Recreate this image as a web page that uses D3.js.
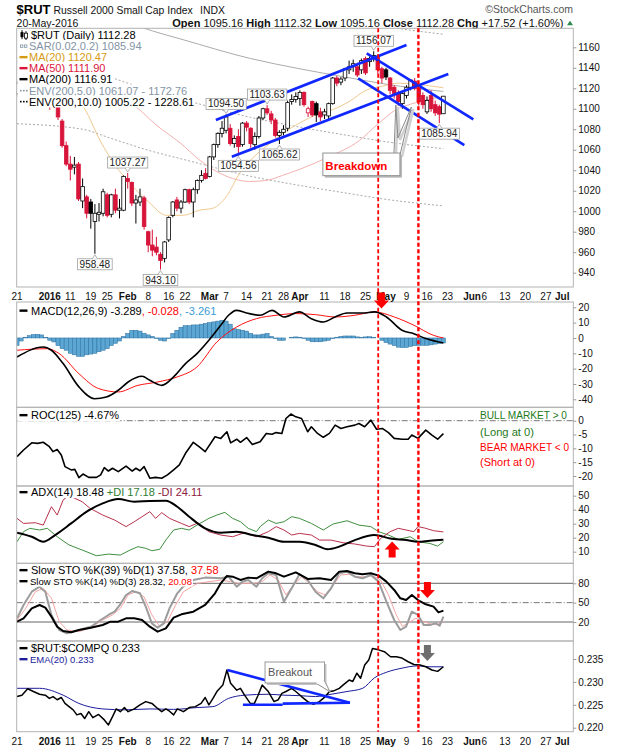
<!DOCTYPE html>
<html><head><meta charset="utf-8">
<script src="https://cdn.jsdelivr.net/npm/d3@7"></script>
<style>
body{margin:0;background:#fff;}
svg{display:block;font-family:"Liberation Sans",Arial,sans-serif;}
</style></head><body>
<svg id="c" width="620" height="750"></svg>
<script>
// ---------------- DATA ----------------
// trading-day index 0 = 21-Dec-2015 ... 104 = 20-May-2016
const opens = [1115,1126,1138,1151,1146,1142,1153,1143,1131,1115,1103,1088,1064,1046,1043,1046,1010,1014,1009,990,997,998,1016,997,1016,1001,1001,1032,1028,1008,1009,1013,980,967,965,958,954,972,996,1011,1003,1009,1021,1009,1021,1030,1037,1034,1053,1065,1076,1079,1081,1066,1073,1065,1086,1081,1065,1073,1091,1100,1095,1089,1074,1077,1081,1107,1109,1110,1116,1096,1107,1105,1097,1094,1093,1105,1130,1126,1130,1138,1141,1141,1138,1149,1146,1149,1151,1139,1138,1130,1121,1115,1105,1113,1121,1127,1120,1113,1097,1113,1104,1102,1095.16];
const highs = [1127,1138,1152,1153,1147,1157,1155,1145,1132,1120,1104,1090,1068,1054,1053,1048,1032,1016,1012,1007,1008,1022,1018,1017,1022,1012,1035,1037.27,1029,1016,1022,1015,981,982,975,960,971,995,1010,1014,1011,1022,1022,1023,1031,1040,1042,1054,1066,1077,1088,1094.50,1085,1074,1080,1087,1088,1082,1077,1093,1101,1103.63,1098,1091,1079,1084,1108,1114,1116,1118,1117,1102,1108,1107,1101,1100,1106,1131,1132,1131,1140,1147,1148,1145,1149,1151,1151,1156.07,1153,1141,1140,1131,1123,1118,1116,1123,1129,1130,1124,1116,1112,1118,1108,1104,1112.32];
const lows = [1112,1124,1137,1146,1134,1141,1142,1134,1099,1108,1089,1062,1044,1030,1036,1010,1003,993,983,958.48,990,995,994,994,998,993,1000,1022,1005,988,1005,982,960,956,957,943.10,950,970,994,1000,998,1008,1007,994,1017,1028,1031,1033,1050,1062,1072,1076,1064,1062,1054.56,1063,1078,1062,1060,1071,1089,1094,1085,1072,1065.62,1074,1078,1104,1106,1103,1102,1092,1092,1087,1088,1090,1089,1104,1122,1123,1127,1134,1136,1131,1134,1133,1141,1146,1134,1125,1128,1114,1110,1103,1100,1110,1118,1118,1103,1100,1095,1097,1093,1085.94,1095.16];
const closes = [1125,1137,1151,1148,1140,1154,1144,1136,1114,1117,1092,1064,1046,1041,1045,1012,1024,998,998,998,999,1019,996,1016,1001,1003,1034,1029,1008,1011,1014,985,967,962,960,952,970,994,1009,1003,1009,1021,1009,1021,1030,1035,1032,1053,1065,1076,1081,1092,1066,1071,1063,1086,1082,1066,1073,1091,1100,1096,1089,1074,1077,1080,1106,1109,1112,1116,1104,1100,1094,1094,1092,1097,1105,1130,1125,1129,1139,1141,1144,1133,1147,1135,1149,1152,1138,1130,1131,1118,1115,1107,1115,1121,1128,1120,1107,1104,1108,1100,1096,1094.76,1112.28];

const peakIdx = [87, 61, 51, 27];
const troughIdx = [64, 54, 19, 35, 103];

const ma20Pts = [[0,1140],[8,1133],[12,1118],[16.5,1100],[20.2,1069.5],[24.2,1043.5],[28.3,1024],[32.4,1008],[36.4,996],[40.5,996],[44.5,1001],[47.8,1003],[51,1014],[54.3,1037],[57.5,1052],[60.7,1063],[64.8,1076],[68.9,1086],[72.9,1094],[76.9,1099],[81,1107],[85.1,1118],[89.1,1122],[93.2,1125],[97.2,1124],[104,1120.47]];
const ma50Pts = [[0,1150],[10,1140],[20,1120],[29,1102],[34,1084],[40,1066],[44.5,1050],[48.6,1039],[52.6,1032],[56.7,1029],[60.7,1030],[64.8,1035],[69,1041],[76,1053],[83.5,1069],[88,1085],[92,1098],[97.3,1106],[104,1111.90]];
const ma200Pts = [[0,1206],[16,1200],[23,1190],[33,1176],[40,1168],[57,1149],[69,1139],[80,1131],[90,1124],[104,1116.91]];

const macdPts = [[0,-12.4],[6.4,-5.9],[8.4,-8],[11.25,-16.7],[15.1,-31.9],[18.9,-39.6],[21.8,-38.5],[24.7,-34.1],[27.1,-28.7],[30.5,-25],[32.4,-27.6],[35.3,-30.9],[38.2,-25.4],[41.1,-16.7],[43.9,-10.2],[46.8,-1.5],[49.7,8.3],[51.6,14.8],[53.5,18],[56,16.3],[59.3,14.8],[62.2,18],[65.1,13.7],[68.9,17],[71.8,12.6],[74.7,10.4],[77.6,13.7],[80.5,16.3],[84.3,16.3],[87.2,17],[90.1,13.7],[93.9,5],[96.8,2.8],[99.7,-0.4],[104,-3.289]];
const signalPts = [[0,-8],[7.4,-7],[10.3,-10.2],[15.1,-23.3],[19.9,-33],[24.7,-35.2],[29.5,-30.9],[34.3,-28.7],[39.1,-25.4],[43.9,-18.9],[48.75,-2.6],[53.6,7.2],[58.4,12.6],[63.2,14.8],[68,15.9],[72.8,15.2],[77.6,13.7],[82.4,14.8],[87.2,17],[92,13.7],[96.8,8.3],[101.6,1.7],[104,-0.028]];
const macdHist = [-4.8,-2,0.5,1.5,2.2,2.4,2,0.3,-1.5,-2.6,-5,-7,-8,-10,-11,-12,-12,-11,-10.5,-10,-9,-8,-7,-5,-3.5,-2,1,3,5,5,4.5,3,2,1,-0.5,-1.5,-2,-0.5,3,5,7,8,8,8.5,8.5,9,9.5,10,10.5,11,11.5,11,9,6,5.5,5,4.5,3,2,2,2.5,3,1,-0.5,-1.5,-1.5,0,0.5,0.7,0.5,-0.5,-1.5,-2.5,-2.5,-2.5,-2,-1.5,-0.5,0.5,1,1.3,1.3,1.3,0.7,0.5,0.7,0.8,0.5,0,-1.5,-3,-4,-5,-6,-6.3,-6.2,-5.5,-5,-4.8,-4.8,-4.8,-4.5,-4,-3.6,-3.261];

const rocPts = [[0,-13],[1.6,-10.6],[3.6,-8],[5,-8.2],[6.4,-7.8],[7.9,-9.4],[8.8,-11.2],[9.8,-10.4],[10.8,-12.4],[11.7,-16.6],[13.2,-17.8],[14.1,-17.6],[15.1,-20.6],[16.1,-19.3],[17.5,-20.5],[19.4,-20.5],[20.4,-19.6],[21.3,-17],[22.3,-18.2],[23.3,-17.2],[24.7,-18.4],[26.6,-16.4],[28.1,-18.2],[29,-17.2],[30,-18.1],[31,-16.6],[32.4,-20.8],[33.8,-20.5],[35.3,-20.8],[36.7,-19.6],[38.2,-17.8],[39.6,-16],[41.1,-11.8],[43,-7.8],[44.4,-9.4],[45.9,-11.2],[48.3,-5.8],[49.7,-6.4],[51.2,-4],[52.1,-8],[53.6,-6.7],[54.5,-7.8],[56,-6.1],[57.4,-8.6],[59.3,-7.6],[60.8,-4.6],[62.2,-4.9],[63.2,-4.3],[64.6,-4.6],[65.6,0.8],[66.8,2.4],[68,1.4],[69.4,0.8],[70.9,-4],[71.8,-2.2],[73.3,-4.6],[74.7,-6],[76.2,-4.6],[77.6,-1.6],[79,-2.8],[80.5,-2.2],[82.4,-1.6],[83.4,-1],[84.8,-2.2],[86.3,0.2],[87.7,-3.1],[89.1,-2.8],[90.6,-4.3],[92,-6.4],[93.9,-6.7],[95.4,-6.7],[96.3,-5.2],[97.8,-6.4],[99.7,-3.4],[101.2,-5.2],[102.6,-6.7],[104,-4.67]];

const adxPts = [[0,23.6],[3.6,20.7],[6.4,17.1],[9.3,21.9],[13.2,30.2],[17,38.6],[20.9,44.5],[24.7,47.6],[28.6,45.7],[32.4,46.2],[36.3,46.4],[39.1,42.1],[42,35],[45.9,26.7],[49.7,23.6],[53.6,24.3],[57.4,21.9],[61.3,20],[65.1,17.1],[68.9,17.1],[72.8,14.8],[75.7,11.7],[78.6,13.6],[82.4,18.3],[87.2,21.9],[91,19.5],[94.9,18.3],[97.8,17.1],[100.7,17.9],[104,18.48]];
const pdiPts = [[0,17.1],[1.6,24.3],[3.1,26.7],[5.5,25.5],[7.4,26.7],[9.8,20.7],[12.7,14.8],[15.9,11.2],[19.4,7.1],[22.3,8.3],[25.2,7.6],[27.6,11.2],[29.5,13.6],[31.4,12.4],[32.9,10.7],[34.8,11.7],[36.3,18.3],[38.2,25.5],[40.1,26.7],[42,25.5],[43.9,29],[46.8,33.8],[48.75,36.2],[50.7,38.1],[52.6,33.8],[54.5,31.4],[56.4,26.7],[58.4,24.3],[59.3,27.9],[61.3,32.6],[63.2,30.2],[65.1,31.4],[67,35],[68.9,33.8],[71.8,30.2],[74.7,25.5],[77.1,29.8],[80.5,32.1],[83.4,29],[86.3,27.9],[88.2,24.3],[90.6,21.9],[93,18.8],[95.9,20.7],[97.8,17.1],[100.7,15.9],[102.6,14],[104,17.18]];
const mdiPts = [[0,33.8],[1.6,30.2],[4.5,30.7],[6.4,29],[8.4,42.1],[9.8,36.2],[11.25,46.9],[12.7,50.5],[14.1,48.1],[15.9,45.7],[17.8,41],[20.9,36.2],[23.8,32.6],[26.6,27.9],[28.6,31.4],[30.5,35],[32.4,38.6],[33.8,33.8],[35.3,37.9],[37.2,33.8],[40.1,30.2],[42,27.9],[43.9,30.2],[46.8,24.3],[49.7,21.9],[52.6,20.7],[55.5,23.6],[58.4,20.7],[61.3,24.3],[63.2,27.9],[65.1,25.5],[67,21.9],[68.9,23.1],[71.8,21.9],[73.8,18.3],[76.6,18.3],[79.5,16.4],[82.4,15.5],[85.3,14],[87.2,13.6],[88.7,19.5],[91,24.3],[93,26.7],[94.9,25.5],[96.8,24.3],[97.8,27.9],[99.7,26.7],[101.6,25],[104,24.11]];

const k39Pts = [[0,20.5],[1.6,25.7],[3.6,41.2],[5.5,46.4],[6.9,42.2],[8.4,28.3],[9.8,12.7],[11.25,6],[13.2,4],[15.1,7.6],[18,11.2],[20.9,15.3],[22.8,20.5],[24.7,20.5],[26.6,25.7],[28.6,25.7],[30.5,23.1],[32.4,12.7],[34.3,5],[36.3,10.2],[38.2,26.7],[40.1,31.9],[43,36],[45.9,46.4],[48.3,64.5],[49.7,80],[51.2,91.4],[52.6,90.3],[54.5,85.2],[56.4,88.8],[58.4,87.8],[61.3,98.1],[63.2,95.5],[65.1,90.3],[68,97],[70.9,86.7],[73.8,87.8],[76.6,85.2],[78.6,98.1],[80.5,99.1],[82.4,95.5],[84.3,94],[86.3,95.5],[88.2,91.9],[90.1,82.6],[92,69.7],[93.5,56.7],[94.9,54.1],[96.3,61.9],[97.8,54.1],[99.7,47.4],[101.6,43.8],[102.8,35],[104,37.58]];
const k14Pts = [[0,25.7],[1.6,46.4],[3.6,67],[5.5,74.8],[6.9,67],[8.4,30.9],[10.3,7.6],[12.2,2.4],[15.1,7.6],[18,12.7],[20.4,23.1],[22.3,30.9],[23.8,36],[25.2,47.4],[26.6,61.9],[28.1,68.1],[30,64.5],[31.4,43.8],[32.9,17.9],[34.3,11.2],[35.8,17.9],[37.2,41.2],[39.1,64.5],[40.5,74.8],[43,85],[45.9,88.8],[49.7,87.8],[51.6,90.3],[53.6,74.8],[55,82.6],[56.4,85.2],[58.4,74.8],[59.8,87.8],[61.3,95.5],[63.2,92.9],[65.1,51.5],[67,72.2],[68.9,94],[70.9,85.2],[72.8,67],[74.7,56.7],[76.6,72.2],[78.6,95.5],[80.5,98.1],[82.4,90.3],[84.3,87.8],[86.3,92.9],[88.2,82.6],[90.1,51.5],[92,23.1],[93.5,7.6],[94.9,12.7],[96.3,36],[97.8,30.9],[99.2,15.3],[100.7,15.3],[102.1,17.9],[103.1,14.3],[104,28.32]];
const d3Pts = [[0,23],[2.1,41],[4.5,67],[6.4,72],[8.4,57],[10.3,20.5],[12.2,7.6],[15.1,5],[18,11.2],[20.9,23],[23.3,31],[25.2,41],[27.1,62],[29,67],[31,59],[32.9,31],[34.8,13],[36.7,20.5],[38.65,46],[40.6,67],[44,80],[49.7,85],[52.1,82.6],[54,80],[56,80],[57.9,80],[59.8,82.6],[61.7,93],[63.7,85],[65.6,62],[67.5,77.4],[69.4,90],[71.3,80],[73.3,67],[75.2,62],[77.1,77.4],[79,93],[81,94],[82.9,90],[84.8,90],[86.7,92],[88.65,85],[90.6,62],[92.5,31],[94,13],[95.9,20.5],[97.3,25.7],[99.2,20.5],[101.1,16.4],[102.6,16.4],[104,20.08]];

const ratioPts = [[0,0.2268],[1.2,0.2271],[2.6,0.2285],[4,0.2279],[5.5,0.2273],[6.9,0.2271],[7.9,0.2264],[8.8,0.2268],[9.8,0.2261],[10.8,0.2266],[11.7,0.2253],[12.7,0.2246],[13.7,0.2239],[14.6,0.2228],[15.6,0.2231],[16.5,0.2220],[17.5,0.2235],[18.5,0.2222],[19.9,0.2229],[21.3,0.2217],[22.3,0.2206],[23.3,0.2224],[24.2,0.2241],[25.2,0.2235],[26.2,0.2244],[27.1,0.2235],[28.6,0.2241],[30,0.2250],[31.4,0.2257],[32.9,0.2253],[34.3,0.2242],[35.3,0.2235],[36.3,0.2241],[37.2,0.2236],[38.2,0.2228],[39.1,0.2241],[40.6,0.2235],[42,0.2244],[43.5,0.2246],[44.9,0.2253],[45.9,0.2266],[46.8,0.2250],[47.8,0.2264],[48.75,0.2279],[50.2,0.2293],[51.2,0.2326],[52.1,0.2297],[53.6,0.2282],[54.5,0.2286],[55.5,0.2271],[56.9,0.2253],[57.9,0.2253],[58.8,0.2271],[59.8,0.2293],[61.3,0.2279],[62.7,0.2257],[63.7,0.2261],[64.6,0.2275],[65.6,0.2279],[67,0.2286],[68,0.2279],[69.4,0.2268],[70.9,0.2257],[72.3,0.2251],[73.75,0.2257],[75.2,0.2268],[76.2,0.2279],[77.1,0.2280],[78.6,0.2286],[79.5,0.2293],[81,0.2304],[81.9,0.2301],[82.9,0.2319],[83.8,0.2308],[84.8,0.2337],[85.8,0.2348],[86.7,0.2373],[88.2,0.2370],[89.6,0.2366],[91.1,0.2355],[92.5,0.2355],[93.9,0.2352],[95.4,0.2344],[96.8,0.2338],[98.3,0.2337],[99.7,0.2333],[101.2,0.2326],[102.6,0.2323],[104,0.2333]];
const emaPts = [[0,0.2286],[5.5,0.2286],[11.25,0.2271],[15.1,0.2253],[20.9,0.2241],[26.6,0.2239],[32.4,0.2241],[38.2,0.2240],[43.9,0.2244],[47.8,0.2246],[51.6,0.2264],[55.5,0.2271],[61.3,0.2273],[65.1,0.2271],[68.9,0.2270],[72.8,0.2268],[76.6,0.2273],[80.5,0.2279],[84.3,0.2286],[87.2,0.2309],[90.1,0.2321],[93.9,0.2330],[97.8,0.2335],[100.7,0.2333],[104,0.2333]];

const tickIdx = [0,8,13,18,22,27,32,37,41,47,51,56,61,65,69,75,80,85,90,95,100,105,111,114,119,124,129,133];
const tickLabels = ["21","2016","11","19","25","Feb","8","16","22","Mar","7","14","21","28","Apr","11","18","25","May","9","16","23","Jun","6","13","20","27","Jul"];
const boldLabels = ["2016","Feb","Mar","Apr","May","Jun","Jul"];

const mainTicks = [940,960,980,1000,1020,1040,1060,1080,1100,1120,1140,1160];
const macdTicks = [-40,-30,-20,-10,0,10,20];
const rocTicks = [-20,-15,-10,-5,0];
const adxTicks = [10,20,30,40,50];
const stoTicks = [20,50,80];
const ratioTicks = [0.220,0.225,0.230,0.235];

// annotations (index, value)
const trendLines = [[[48.5,1089],[95,1162.2]],[[52.4,1053.2],[105.2,1133.9]],[[85.3,1154.1],[111.3,1089.7]],[[83.2,1129.7],[109.1,1064.6]]];
const ratioTrend = [[[51.3,0.2326],[81.2,0.22546]],[[55.1,0.2250],[64.8,0.2250]],[[64.8,0.22525],[81.2,0.22546]]];
const vDashIdx = [88.1, 97.9];

// ---------------- CHART ----------------
const svg = d3.select('#c');
const X0 = 16.7, X1 = 573.3;
const x = d3.scaleLinear().domain([0,133]).range([17, 17 + 133*4.1]);
const P = {main:{t:28.3,b:287}, macd:{t:302,b:407.3}, roc:{t:407.3,b:486}, adx:{t:486,b:563.3}, sto:{t:563.3,b:641}, ratio:{t:641,b:731.7}};
const yMain = d3.scaleLinear().domain([940,1160]).range([272.7,47.3]);
const yMacd = d3.scaleLinear().domain([-40,20]).range([399.3,307.3]);
const yRoc = d3.scaleLinear().domain([-20,0]).range([476,420.7]);
const yAdx = d3.scaleLinear().domain([10,50]).range([551.7,495.7]);
const ySto = d3.scaleLinear().domain([20,80]).range([622,583.3]);
const yRat = d3.scaleLinear().domain([0.220,0.235]).range([727.7,659]);

const RED = '#d8143a';
const defs = svg.append('defs');
Object.entries(P).forEach(([k,p]) => defs.append('clipPath').attr('id','clip-'+k).append('rect')
  .attr('x',X0).attr('y',p.t).attr('width',X1-X0).attr('height',p.b-p.t));
const panelG = k => svg.append('g').attr('clip-path',`url(#clip-${k})`);
const lineGen = (y, curve) => d3.line().x(d=>x(d[0])).y(d=>y(d[1])).curve(curve||d3.curveLinear);
function path(g, data, y, color, w, curve, dash){
  return g.append('path').datum(data).attr('d', lineGen(y,curve)).attr('fill','none')
    .attr('stroke',color).attr('stroke-width',w).attr('stroke-dasharray',dash||null).attr('stroke-linejoin','round');
}

// ---- header ----
svg.append('text').attr('x',16.6).attr('y',13.5).attr('font-size',13).attr('font-weight','bold').attr('fill','#000').text('$RUT');
svg.append('text').attr('x',53.5).attr('y',13.5).attr('font-size',10.4).attr('fill','#111').text('Russell 2000 Small Cap Index');
svg.append('text').attr('x',200).attr('y',13.5).attr('font-size',10.4).attr('fill','#111').text('INDX');
svg.append('text').attr('x',573).attr('y',12.5).attr('font-size',10.5).attr('fill','#555').attr('text-anchor','end').text('\u00A9StockCharts.com');
svg.append('text').attr('x',16.6).attr('y',26.5).attr('font-size',10.5).attr('fill','#111').text('20-May-2016');
{
  const n = closes.length-1, chg = closes[n]-closes[n-1], pct = chg/closes[n-1]*100;
  const t = svg.append('text').attr('x',563.5).attr('y',26.5).attr('font-size',11).attr('fill','#111').attr('text-anchor','end');
  const parts = [['Open',1],[' '+opens[n].toFixed(2)+' ',0],['High',1],[' '+highs[n].toFixed(2)+' ',0],['Low',1],[' '+lows[n].toFixed(2)+' ',0],['Close',1],[' '+closes[n].toFixed(2)+' ',0],['Chg',1],[' +'+chg.toFixed(2)+' (+'+pct.toFixed(2)+'%)',0]];
  parts.forEach(p=>t.append('tspan').attr('font-weight',p[1]?'bold':null).attr('xml:space','preserve').text(p[0]));
  svg.append('path').attr('d','M567,25.3 L570,20.8 L573,25.3 Z').attr('fill','#2a8a4a');
}

// ---- main panel ----
const gM = panelG('main');
const env = (f) => ma200Pts.map(d=>[d[0], d[1]*f]);
path(gM, env(1.10), yMain, '#a8a8a8', 1, d3.curveMonotoneX, '2,2');
path(gM, env(1.05), yMain, '#a8a8a8', 1, d3.curveMonotoneX, '2,2');
path(gM, env(0.95), yMain, '#a8a8a8', 1, d3.curveMonotoneX, '2,2');
path(gM, env(0.90), yMain, '#a8a8a8', 1, d3.curveMonotoneX, '2,2');
path(gM, ma200Pts, yMain, '#ababab', 1, d3.curveMonotoneX);
path(gM, ma50Pts, yMain, '#f3b0b0', 1, d3.curveMonotoneX);
path(gM, ma20Pts, yMain, '#efc98f', 1, d3.curveMonotoneX);

const cd = closes.map((c,i)=>({i, o:opens[i], h:highs[i], l:lows[i], c, up: i===0 ? c>=opens[i] : c>=closes[i-1]}));
gM.selectAll('line.wick').data(cd).join('line').attr('class','wick')
  .attr('x1',d=>x(d.i)).attr('x2',d=>x(d.i)).attr('y1',d=>yMain(d.h)).attr('y2',d=>yMain(d.l))
  .attr('stroke',d=>d.up?'#000':RED).attr('stroke-width',1);
gM.selectAll('rect.body').data(cd).join('rect').attr('class','body')
  .attr('x',d=>x(d.i)-1.8).attr('width',3.6)
  .attr('y',d=>yMain(Math.max(d.o,d.c))).attr('height',d=>Math.max(1,Math.abs(yMain(d.o)-yMain(d.c))))
  .attr('fill',d=>d.c<d.o?(d.up?'#000':RED):'#fff').attr('stroke',d=>d.up?'#000':RED).attr('stroke-width',0.8);

trendLines.forEach(seg => path(gM, seg, yMain, '#1028ff', 2.7));

// high/low labels
function priceLabel(i, v, above){
  const cx = x(i), yy = yMain(v);
  const g = svg.append('g');
  const t = g.append('text').attr('x',cx).attr('font-size',10).attr('fill','#222').attr('text-anchor','middle').text(v.toFixed(2));
  const w = t.node().getComputedTextLength()+4, h = 11;
  const by = above ? yy-5-h : yy+5;
  t.attr('y', by+9);
  g.insert('rect',()=>t.node()).attr('x',cx-w/2).attr('y',by).attr('width',w).attr('height',h).attr('fill','#fff').attr('stroke','#a0a0a0').attr('stroke-width',0.8);
  const py = above ? by+h : by;
  g.append('path').attr('d', above ? `M${cx-2.5},${py} L${cx},${yy-1} L${cx+2.5},${py}` : `M${cx-2.5},${py} L${cx},${yy+1} L${cx+2.5},${py}`)
    .attr('fill','#fff').attr('stroke','#a0a0a0').attr('stroke-width',0.8);
}
peakIdx.forEach(i=>priceLabel(i, highs[i], true));
troughIdx.forEach(i=>priceLabel(i, lows[i], false));

// Breakdown callout
{
  const bx0 = x(74.6), bx1 = x(93.4), by0 = yMain(1056.8), by1 = yMain(1034.7);
  const ptr = [[91.95,1056.8],[92.4,1103.7],[92.9,1071.5],[96.2,1101.7],[93.4,1054.8]];
  const pl = d3.line().x(d=>x(d[0])).y(d=>yMain(d[1]));
  svg.append('path').attr('d',pl(ptr)).attr('fill','none').attr('stroke','#d0d0d0').attr('stroke-width',2.5).attr('transform','translate(2,2)');
  svg.append('path').attr('d',pl(ptr)).attr('fill','none').attr('stroke','#8a8a8a').attr('stroke-width',1);
  svg.append('rect').attr('x',bx0+2).attr('y',by0+2).attr('width',bx1-bx0).attr('height',by1-by0).attr('fill','#b8b8b8');
  svg.append('rect').attr('x',bx0).attr('y',by0).attr('width',bx1-bx0).attr('height',by1-by0).attr('fill','#fff').attr('stroke','#909090');
  svg.append('text').attr('x',bx0+2.5).attr('y',by0+16.5).attr('font-size',11.5).attr('font-weight','bold').attr('fill','#ff0000').text('Breakdown');
}

// ---- legends helper ----
function legend(x0, yb, parts, size, icon, iconColor){
  const g = svg.append('g');
  const t = g.append('text').attr('x',x0).attr('y',yb).attr('font-size',size);
  parts.forEach(p=>t.append('tspan').attr('fill',p[1]).attr('xml:space','preserve').text(p[0]));
  const bb = t.node().getBBox();
  g.insert('rect',()=>t.node()).attr('x',X0+0.6).attr('y',bb.y).attr('width',bb.x+bb.width+1-X0-0.6).attr('height',bb.height).attr('fill','#fff');
  const cy = yb - size*0.35;
  if (icon==='dash') g.append('line').attr('x1',19.5).attr('x2',27.5).attr('y1',cy).attr('y2',cy).attr('stroke',iconColor).attr('stroke-width',2.4);
  if (icon==='dots') [20,23,26].forEach(px=>g.append('rect').attr('x',px).attr('y',cy-0.8).attr('width',1.6).attr('height',1.6).attr('fill',iconColor));
  if (icon==='sar') [20.5,24.5].forEach(px=>g.append('rect').attr('x',px).attr('y',cy-1.2).attr('width',2.4).attr('height',2.4).attr('fill','none').attr('stroke',iconColor).attr('stroke-width',0.8));
  if (icon==='candle'){
    g.append('line').attr('x1',22).attr('x2',22).attr('y1',cy-5).attr('y2',cy+4).attr('stroke','#000');
    g.append('rect').attr('x',20.5).attr('y',cy-3).attr('width',3).attr('height',5).attr('fill','#000');
    g.append('line').attr('x1',26).attr('x2',26).attr('y1',cy-4).attr('y2',cy+5).attr('stroke','#000');
    g.append('rect').attr('x',24.5).attr('y',cy-2).attr('width',3).attr('height',5).attr('fill','#fff').attr('stroke','#000').attr('stroke-width',0.8);
  }
}
legend(31, 39, [['$RUT (Daily) 1112.28','#000']], 11, 'candle');
legend(29, 50, [['SAR(0.02,0.2) 1085.94','#8495a6']], 11, 'sar', '#8495a6');
legend(29, 61, [['MA(20) 1120.47','#d59a12']], 11, 'dash', '#d59a12');
legend(29, 72, [['MA(50) 1111.90','#dc143c']], 11, 'dash', '#dc143c');
legend(29, 83, [['MA(200) 1116.91','#000']], 11, 'dash', '#000');
legend(29, 94.5, [['ENV(200,5.0) 1061.07 - 1172.76','#8495a6']], 11, 'dots', '#8495a6');
legend(29, 105.5, [['ENV(200,10.0) 1005.22 - 1228.61','#000']], 11, 'dots', '#000');

// ---- MACD ----
const gMa = panelG('macd');
gMa.selectAll('rect').data(macdHist).join('rect')
  .attr('x',(d,i)=>x(i)-2.05).attr('width',4.1)
  .attr('y',d=>Math.min(yMacd(0),yMacd(d))).attr('height',d=>Math.abs(yMacd(d)-yMacd(0)))
  .attr('fill','#5ba6d3').attr('stroke','#2b6e9e').attr('stroke-width',0.5);
path(gMa, signalPts, yMacd, '#ff1010', 1, d3.curveMonotoneX);
path(gMa, macdPts, yMacd, '#000', 1.6, d3.curveMonotoneX);
legend(31, 314.5, [['MACD(12,26,9) -3.289','#000'],[', -0.028','#ff0000'],[', -3.261','#3a9bd5']], 11, 'dash', '#000');

// ---- ROC ----
const gR = panelG('roc');
gR.append('line').attr('x1',X0).attr('x2',X1).attr('y1',yRoc(0)).attr('y2',yRoc(0)).attr('stroke','#777').attr('stroke-dasharray','6,2,1,2');
path(gR, rocPts, yRoc, '#000', 1.6);
legend(31, 419, [['ROC(125) -4.67%','#000']], 11, 'dash', '#000');
[['BULL MARKET > 0','#1d7a1d',419,87],['(Long at 0)','#1d7a1d',435.5,54],['BEAR MARKET < 0','#ff0000',450.5,89],['(Short at 0)','#ff0000',466,55]]
  .forEach(r=>svg.append('text').attr('x',480).attr('y',r[2]).attr('font-size',10.2).attr('fill',r[1])
    .attr('textLength',r[3]).attr('lengthAdjust','spacingAndGlyphs').text(r[0]));

// ---- ADX ----
const gA = panelG('adx');
path(gA, pdiPts, yAdx, '#3f8f3f', 1);
path(gA, mdiPts, yAdx, '#b8304c', 1);
path(gA, adxPts, yAdx, '#000', 2, d3.curveMonotoneX);
legend(31, 496, [['ADX(14) 18.48 ','#000'],['+DI 17.18 ','#2e7d32'],['-DI 24.11','#8b2040']], 11, 'dash', '#000');

// ---- Slow STO ----
const gS = panelG('sto');
[80,20].forEach(v=>gS.append('line').attr('x1',X0).attr('x2',X1).attr('y1',ySto(v)).attr('y2',ySto(v)).attr('stroke','#666'));
gS.append('line').attr('x1',X0).attr('x2',X1).attr('y1',ySto(50)).attr('y2',ySto(50)).attr('stroke','#777').attr('stroke-dasharray','6,2,1,2');
path(gS, d3Pts, ySto, '#f4a4a4', 1);
path(gS, k14Pts, ySto, '#9c9c9c', 2);
path(gS, k39Pts, ySto, '#000', 2);
legend(31, 574, [['Slow STO %K(39) %D(1) 37.58, ','#000'],['37.58','#ff0000']], 11, 'dash', '#000');
legend(30, 584.5, [['Slow STO %K(14) %D(3) 28.32, ','#000'],['20.08','#ff0000']], 9.5, 'dash', '#000');

// ---- Ratio ----
const gQ = panelG('ratio');
path(gQ, emaPts, yRat, '#1c1c9c', 1, d3.curveMonotoneX);
path(gQ, ratioPts, yRat, '#000', 1.5);
ratioTrend.forEach(seg=>path(gQ, seg, yRat, '#1028ff', 2.6));
legend(31, 652, [['$RUT:$COMPQ 0.233','#000']], 11, 'dash', '#000');
legend(30, 662.5, [['EMA(20) 0.233','#1c1c9c']], 9.5, 'dash', '#1c1c9c');
{
  const bx0 = x(60.5), bx1 = x(75), by0 = yRat(0.23434), by1 = yRat(0.22976);
  const tri = [[72.9,0.22976],[76.3,0.22786],[74.9,0.23041]];
  svg.append('rect').attr('x',bx0+2).attr('y',by0+2).attr('width',bx1-bx0).attr('height',by1-by0).attr('fill','#c4c4c4');
  svg.append('path').attr('d',d3.line().x(d=>x(d[0])+1.5).y(d=>yRat(d[1])+1.5)(tri)).attr('fill','#c4c4c4');
  svg.append('rect').attr('x',bx0).attr('y',by0).attr('width',bx1-bx0).attr('height',by1-by0).attr('fill','#fff').attr('stroke','#999');
  svg.append('path').attr('d',d3.line().x(d=>x(d[0])).y(d=>yRat(d[1]))(tri)).attr('fill','#fff').attr('stroke','#999');
  svg.append('line').attr('x1',x(72.9)+0.5).attr('x2',x(74.9)-0.5).attr('y1',yRat(0.22976)).attr('y2',yRat(0.22976)).attr('stroke','#fff').attr('stroke-width',1.5);
  svg.append('text').attr('x',bx0+3).attr('y',by0+14).attr('font-size',11).attr('fill','#555').text('Breakout');
}

// ---- borders & axes ----
Object.values(P).forEach(p=>svg.append('rect').attr('x',X0).attr('y',p.t).attr('width',X1-X0).attr('height',p.b-p.t)
  .attr('fill','none').attr('stroke','#b2b2b2').attr('stroke-width',1));
function yAxis(scale, ticks, fmt){
  const g = svg.append('g').attr('transform',`translate(${X1},0)`)
    .call(d3.axisRight(scale).tickValues(ticks).tickSize(3).tickPadding(2).tickFormat(fmt||(d=>String(d))));
  g.select('.domain').remove();
  g.attr('font-family','"Liberation Sans",Arial,sans-serif').attr('font-size',10);
  g.selectAll('line').attr('stroke','#999');
  g.selectAll('text').attr('fill','#111');
}
yAxis(yMain, mainTicks);
yAxis(yMacd, macdTicks);
yAxis(yRoc, rocTicks);
yAxis(yAdx, adxTicks);
yAxis(ySto, stoTicks);
yAxis(yRat, ratioTicks, d=>d.toFixed(3));

function xLabels(yb){
  svg.append('g').selectAll('text').data(tickIdx).join('text')
    .attr('x',d=>x(d)).attr('y',yb).attr('text-anchor','middle').attr('font-size',10).attr('fill','#111')
    .attr('font-weight',(d,k)=>boldLabels.includes(tickLabels[k])?'bold':null)
    .text((d,k)=>tickLabels[k]);
}
xLabels(299.5);
xLabels(744.5);

// ---- vertical dashed lines ----
vDashIdx.forEach((i,k)=>svg.append('line').attr('x1',x(i)).attr('x2',x(i)).attr('y1',P.main.t).attr('y2',P.ratio.b)
  .attr('stroke','#ff0000').attr('stroke-width',k===0?1.8:2.4).attr('stroke-dasharray','4,2.5'));

// ---- arrows ----
function arrow(cx, ty, dir, color){
  const L = 16, hw = 7.5, sw = 3.5, hl = 8, s = dir==='down'?1:-1;
  const y0 = ty - s*L, yh = ty - s*hl;
  svg.append('path').attr('d',`M${cx-sw},${y0} H${cx+sw} V${yh} H${cx+hw} L${cx},${ty} L${cx-hw},${yh} H${cx-sw} Z`).attr('fill',color);
}
arrow(x(88.9), yMacd(19.2), 'down', '#ff0000');
arrow(x(91.5), yAdx(17.3), 'up', '#ff0000');
arrow(x(100.1), ySto(57.2), 'down', '#ff0000');
arrow(x(100.1), yRat(0.23456), 'down', '#6e6e6e');
</script></body></html>
